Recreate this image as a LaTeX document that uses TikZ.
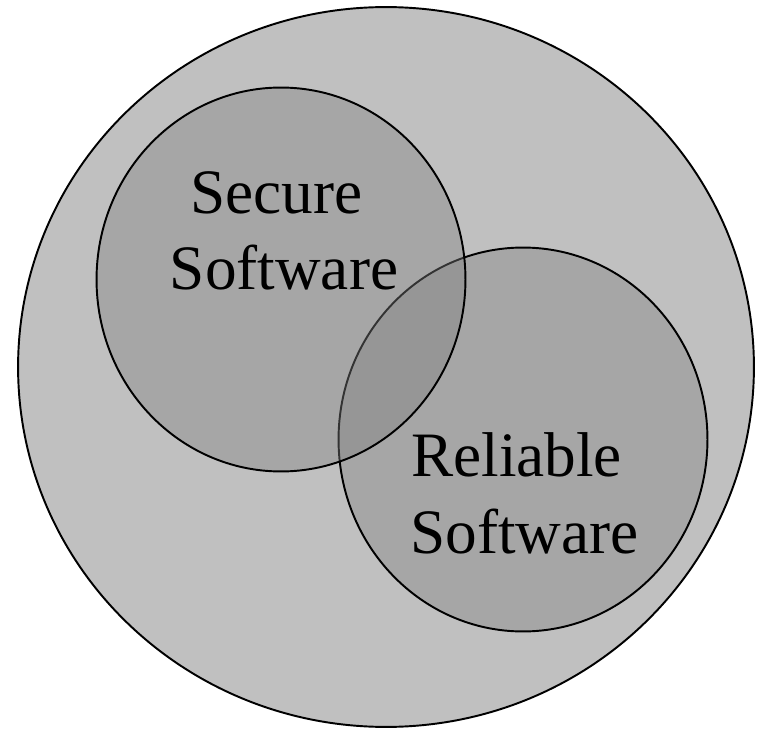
\documentclass[tikz,border=0pt]{standalone}
\usepackage{fontspec}
\setmainfont{Liberation Serif}
\usepackage{tikz}
\usetikzlibrary{shapes.geometric}
\definecolor{outergray}{RGB}{192,192,192}
\definecolor{setgray}{RGB}{166,166,166}
\tikzstyle{universe} = [ellipse, minimum width=14.72cm, minimum height=14.4cm, inner sep=0pt, draw=black, line width=1.1pt, fill=outergray]
\tikzstyle{setA} = [ellipse, minimum width=7.38cm, minimum height=7.68cm, inner sep=0pt, draw=black, line width=1.1pt, fill=black!50, fill opacity=0.4, draw opacity=1]
\tikzstyle{setB} = [ellipse, minimum width=7.38cm, minimum height=7.68cm, inner sep=0pt, draw=black, line width=1.1pt, fill=setgray]
\tikzstyle{label} = [align=center, inner sep=0pt, font=\fontsize{36}{43.8}\selectfont, text=black]

\begin{document}
\begin{tikzpicture}[x=0.02cm, y=-0.02cm]
\useasboundingbox (0,0) rectangle (760,729);

\node at (386,367) (all) [universe] {};

\node at (523,439.5) (reliable) [setB] {};
\node at (281,279.5) (secure) [setA] {};

\node at (284,290) (securetext) [label, anchor=base] {Secure\kern.25em\\Software};
\node at (524.5,553) (reliabletext) [label, anchor=base] {Reliable\kern.25em\\Software};

\end{tikzpicture}
\end{document}
